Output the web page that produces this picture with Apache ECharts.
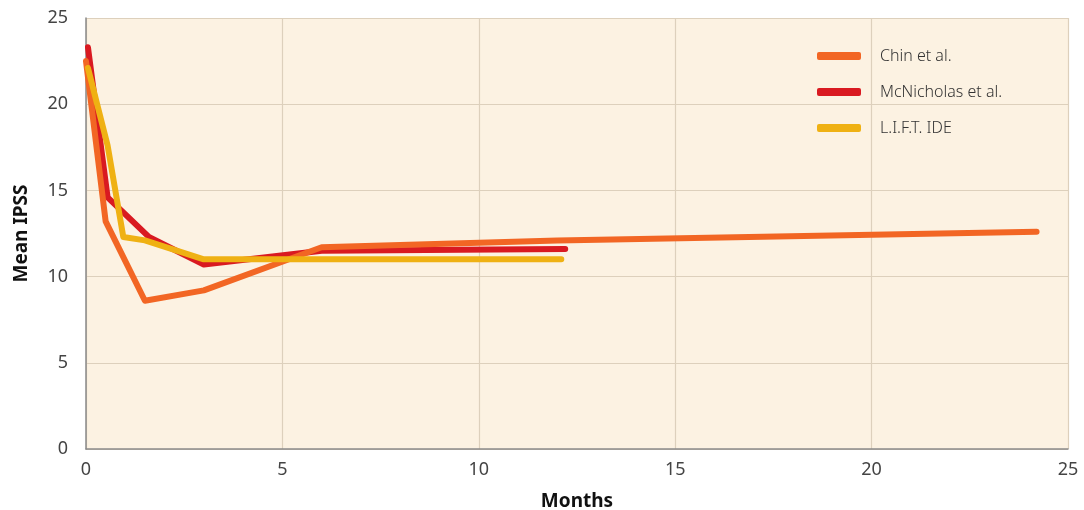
<!DOCTYPE html>
<html><head><meta charset="utf-8">
<script src="https://cdn.jsdelivr.net/npm/echarts@6/dist/echarts.min.js"></script>
<style>html,body{margin:0;padding:0;background:#fff}#c{width:1084px;height:510px}</style>
</head><body><div id="c"></div>
<script>
const seriesNames = ['Chin et al.', 'McNicholas et al.', 'L.I.F.T. IDE'];
const chinData = [[0, 22.5], [0.5, 13.2], [1.5, 8.6], [3, 9.2], [6, 11.7], [12, 12.1], [24.2, 12.6]];
const mcnData = [[0.05, 23.3], [0.55, 14.6], [1.6, 12.3], [3, 10.7], [6, 11.5], [12.2, 11.6]];
const liftData = [[0.05, 22.1], [0.55, 17.6], [0.95, 12.3], [1.5, 12.1], [3, 11.0], [6, 11.0], [12.1, 11.0]];
const xTicks = [0, 5, 10, 15, 20, 25];
const yTicks = [0, 5, 10, 15, 20, 25];
const colors = ['#F26624', '#D91A21', '#EFB113'];

const chart = echarts.init(document.getElementById('c'));
const font = '"Noto Sans", sans-serif';
const mk = (name, data, color, z) => ({
  name, type: 'line', data, showSymbol: false, symbol: 'none', z,
  lineStyle: { width: 6, color, cap: 'round', join: 'round' },
  itemStyle: { color }
});
chart.setOption({
  animation: false,
  backgroundColor: '#fff',
  grid: { left: 86, right: 16, top: 18, bottom: 61, show: true, backgroundColor: '#FCF2E2', borderWidth: 0, containLabel: false, outerBoundsMode: 'none' },
  legend: {
    orient: 'vertical', left: 812, top: 43, itemWidth: 44, itemHeight: 8, itemGap: 20,
    icon: 'roundRect',
    textStyle: { fontFamily: font, fontSize: 16, color: '#333', fontWeight: 300, padding: [0, 0, 0, 14] },
    data: seriesNames
  },
  xAxis: {
    type: 'value', min: xTicks[0], max: xTicks[xTicks.length - 1], interval: 5,
    name: 'Months', nameLocation: 'middle', nameGap: 43,
    nameTextStyle: { fontFamily: font, fontSize: 19, fontWeight: 'bold', color: '#111' },
    axisLine: { show: true, lineStyle: { color: '#8a8a8a', width: 1.5 } },
    axisTick: { show: false },
    axisLabel: { fontFamily: font, fontSize: 18, color: '#444', margin: 12 },
    splitLine: { show: true, lineStyle: { color: '#DDD0BC', width: 1.2 } }
  },
  yAxis: {
    type: 'value', min: yTicks[0], max: yTicks[yTicks.length - 1], interval: 5,
    name: 'Mean IPSS', nameLocation: 'middle', nameGap: 55, nameRotate: 90,
    nameTextStyle: { fontFamily: font, fontSize: 19, fontWeight: 'bold', color: '#111' },
    axisLine: { show: true, lineStyle: { color: '#8a8a8a', width: 1.5 } },
    axisTick: { show: false },
    axisLabel: { fontFamily: font, fontSize: 18, color: '#444', margin: 18 },
    splitLine: { show: true, lineStyle: { color: '#DDD0BC', width: 1.2 } }
  },
  series: [
    mk(seriesNames[0], chinData, colors[0], 3),
    mk(seriesNames[1], mcnData, colors[1], 2),
    mk(seriesNames[2], liftData, colors[2], 4)
  ]
});
</script></body></html>
